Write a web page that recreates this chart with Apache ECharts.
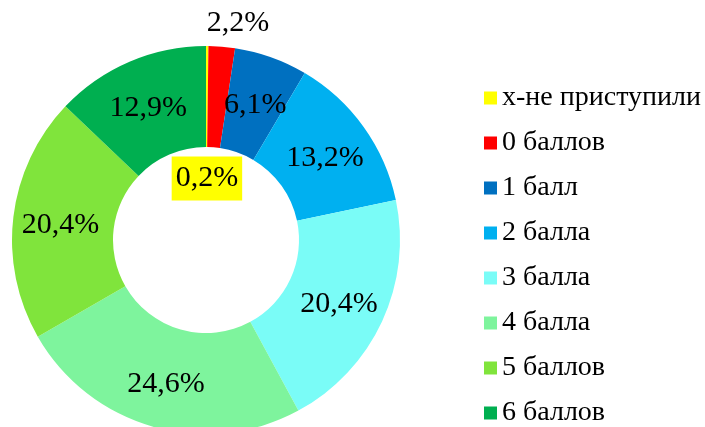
<!DOCTYPE html>
<html>
<head>
<meta charset="utf-8">
<script src="https://cdn.jsdelivr.net/npm/echarts@6/dist/echarts.min.js"></script>
<style>
  html, body { margin: 0; padding: 0; background: #fff; }
  #chart { width: 705px; height: 427px; }
</style>
</head>
<body>
<div id="chart"></div>
<script>
const categories = ['х-не приступили', '0 баллов', '1 балл', '2 балла', '3 балла', '4 балла', '5 баллов', '6 баллов']
const shares = [0.2, 2.2, 6.1, 13.2, 20.4, 24.6, 20.4, 12.9]
const colors = ['#FFFF00', '#FF0000', '#0070C0', '#00B0F0', '#7AFCF7', '#7EF49D', '#80E43C', '#00AF50']

const font = 'serif'

// small slices get their labels moved off the ring
const labelOverrides = {
  0: { offset: [0, 85], backgroundColor: '#FFFF00', padding: [7, 4, 7, 4] },
  1: { offset: [20, -71] }
}

const chart = echarts.init(document.getElementById('chart'))

chart.setOption({
  animation: false,
  color: colors,
  legend: {
    orient: 'vertical',
    left: 479,
    top: 79,
    height: 420,
    icon: 'rect',
    itemWidth: 13,
    itemHeight: 13,
    itemGap: 17,
    textStyle: {
      fontFamily: font,
      fontSize: 28,
      lineHeight: 28,
      color: '#000'
    },
    data: categories
  },
  series: [
    {
      type: 'pie',
      center: [206, 240],
      radius: [93, 194],
      startAngle: 90,
      clockwise: true,
      avoidLabelOverlap: false,
      itemStyle: { borderWidth: 0 },
      label: {
        show: true,
        position: 'inside',
        offset: [0, 3],
        fontFamily: font,
        fontSize: 30,
        color: '#000',
        formatter: p => String(p.value).replace('.', ',') + '%'
      },
      labelLine: { show: false },
      emphasis: { disabled: true },
      data: categories.map((name, i) => ({
        name,
        value: shares[i],
        label: labelOverrides[i] || {}
      }))
    }
  ]
})
</script>
</body>
</html>
